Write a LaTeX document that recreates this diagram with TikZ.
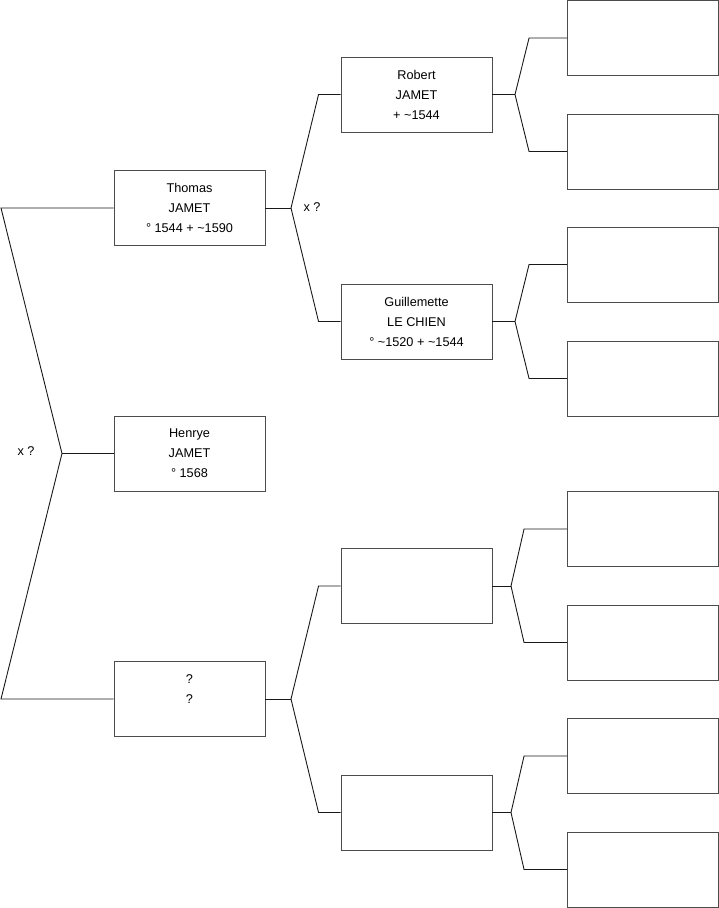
\documentclass[tikz,border=0pt]{standalone}
\usepackage{fontspec}
\setmainfont{Liberation Sans}
\usetikzlibrary{positioning,calc}

\begin{document}
\begin{tikzpicture}[x=1pt, y=-1pt,
  person/.style={draw=black!70, line width=0.9pt, minimum width=151pt, minimum height=75pt,
    inner sep=0pt, align=center, font=\fontsize{12.7}{20}\selectfont},
  link/.style={draw=black!90, line width=0.9pt},
  unionlabel/.style={font=\fontsize{12.7}{14}\selectfont}]
\useasboundingbox (0,0) rectangle (719,908);

% Generation 1
\node[person] (henrye) at (189.5,453.5) {Henrye\\JAMET\\° 1568};
\node[person] (thomas) at (189.5,208) {Thomas\\JAMET\\° 1544 + \textasciitilde1590};
\node[person] (unk) at (189.5,699) {?\\?\\\mbox{}};

% Generation 2
\node[person] (robert) at (416.5,94.5) {Robert\\JAMET\\+ \textasciitilde1544};
\node[person] (guill) at (416.5,321.5) {Guillemette\\LE CHIEN\\° \textasciitilde1520 + \textasciitilde1544};
\node[person] (gm3) at (416.5,586) {};
\node[person] (gm4) at (416.5,812.5) {};

% Generation 3
\node[person] (r1) at (643,38) {};
\node[person] (r2) at (643,151.5) {};
\node[person] (r3) at (643,264.5) {};
\node[person] (r4) at (643,378.5) {};
\node[person] (r5) at (643,529) {};
\node[person] (r6) at (643,642.5) {};
\node[person] (r7) at (643,756) {};
\node[person] (r8) at (643,869.5) {};

% Parents of Henrye
\coordinate (f0) at (62,453.5);
\coordinate (f0a) at (1,208);
\coordinate (f0b) at (1,699);
\draw[link] (henrye.west) -- (f0);
\draw[link] (f0) -- (f0a) -- (thomas.west);
\draw[link] (f0) -- (f0b) -- (unk.west);
\node[unionlabel] (x0) at (26,451) {x ?};

% Parents of Thomas
\coordinate (f1) at (291,208);
\draw[link] (thomas.east) -- (f1);
\draw[link] (f1) -- ($(robert.west)+(-22,0)$) -- (robert.west);
\draw[link] (f1) -- ($(guill.west)+(-22,0)$) -- (guill.west);
\node[unionlabel] (x1) at (312,207) {x ?};

% Parents of ?
\coordinate (f2) at (291,699);
\draw[link] (unk.east) -- (f2);
\draw[link] (f2) -- ($(gm3.west)+(-22,0)$) -- (gm3.west);
\draw[link] (f2) -- ($(gm4.west)+(-22,0)$) -- (gm4.west);

% Parents of Robert
\coordinate (f3) at (515,94.5);
\draw[link] (robert.east) -- (f3);
\draw[link] (f3) -- ($(r1.west)+(-38,0)$) -- (r1.west);
\draw[link] (f3) -- ($(r2.west)+(-38,0)$) -- (r2.west);

% Parents of Guillemette
\coordinate (f4) at (515,321.5);
\draw[link] (guill.east) -- (f4);
\draw[link] (f4) -- ($(r3.west)+(-38,0)$) -- (r3.west);
\draw[link] (f4) -- ($(r4.west)+(-38,0)$) -- (r4.west);

% Upper empty box
\coordinate (f5) at (511,586);
\draw[link] (gm3.east) -- (f5);
\draw[link] (f5) -- ($(r5.west)+(-43,0)$) -- (r5.west);
\draw[link] (f5) -- ($(r6.west)+(-43,0)$) -- (r6.west);

% Lower empty box
\coordinate (f6) at (511,812.5);
\draw[link] (gm4.east) -- (f6);
\draw[link] (f6) -- ($(r7.west)+(-43,0)$) -- (r7.west);
\draw[link] (f6) -- ($(r8.west)+(-43,0)$) -- (r8.west);
\end{tikzpicture}
\end{document}
